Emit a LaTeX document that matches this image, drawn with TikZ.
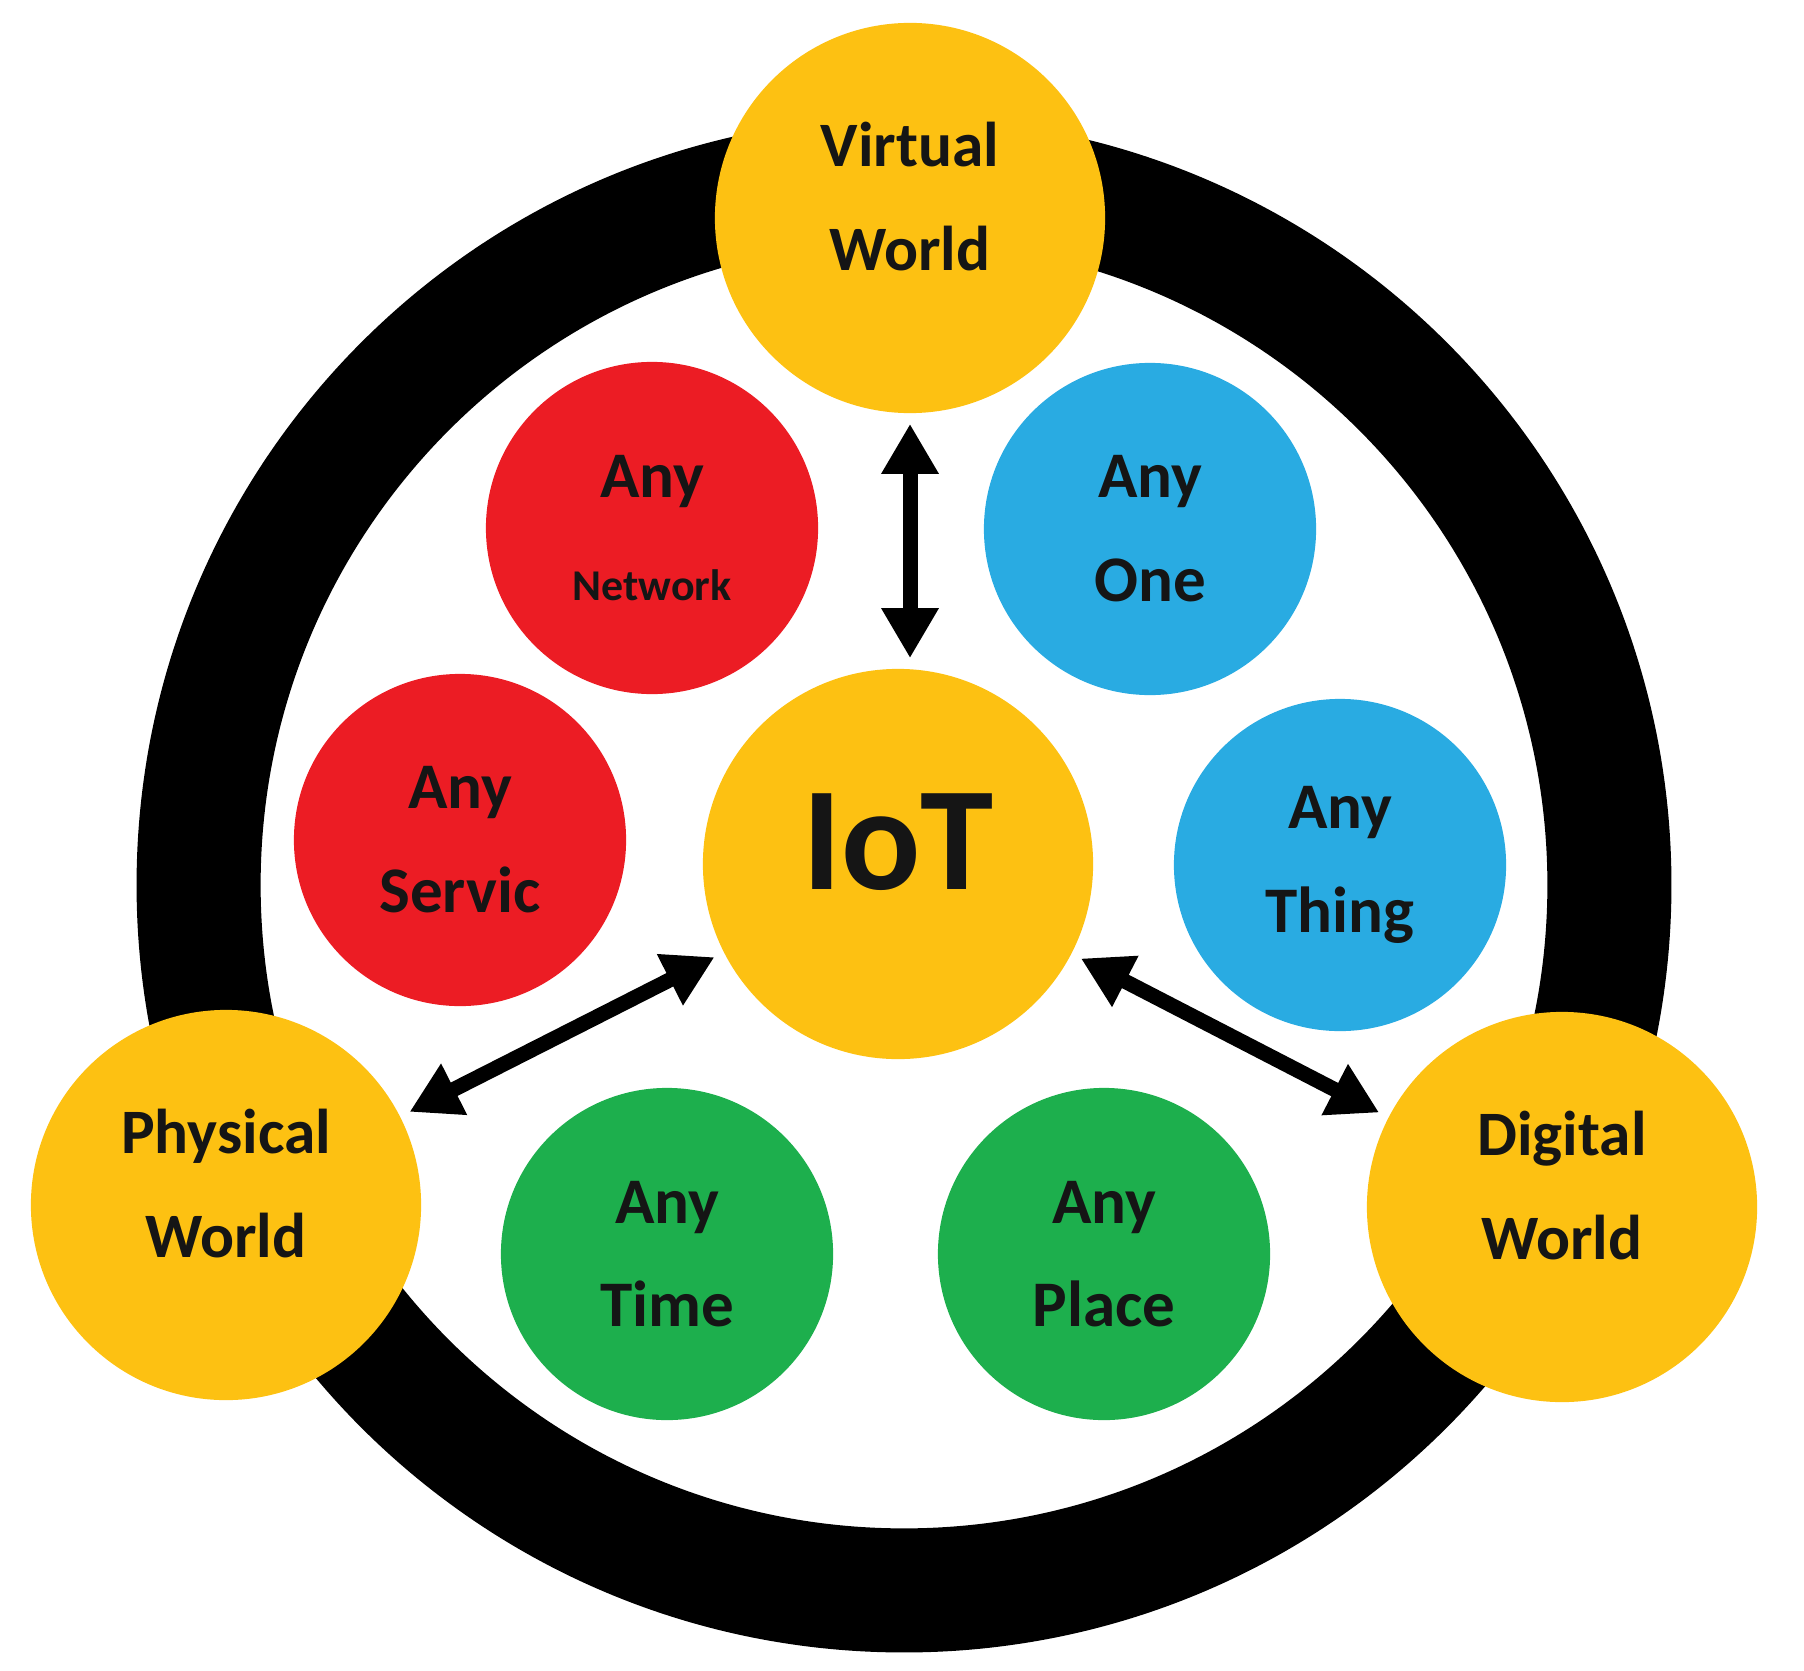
\documentclass[tikz,border=0pt]{standalone}
\usepackage{fontspec}
\setmainfont{Carlito}
\usetikzlibrary{arrows.meta}
\definecolor{gold}{HTML}{FDC112}
\definecolor{anyred}{HTML}{EC1C24}
\definecolor{anyblue}{HTML}{29ABE2}
\definecolor{anygreen}{HTML}{1DAF4D}
\definecolor{ink}{HTML}{151515}

\begin{document}
\begin{tikzpicture}[x=0.01cm,y=-0.01cm,
  world/.style={circle,fill=gold,text=ink,minimum size=3.9cm,inner sep=0pt,align=center,
    font=\fontsize{18}{29.6}\selectfont\bfseries,
    execute at end node={\rule[-0.44cm]{0pt}{0.44cm}}},
  any/.style={circle,text=ink,minimum size=3.32cm,inner sep=0pt,align=center,
    font=\fontsize{18.5}{29.5}\selectfont\bfseries},
  link/.style={line width=0.15cm,
    {Triangle[length=0.5cm,width=0.54cm]}-{Triangle[length=0.5cm,width=0.54cm]},
    shorten <=0.1cm,shorten >=0.1cm}]
  \useasboundingbox (0,0) rectangle (1804,1670);

  \draw[line width=1.24cm] (904,885) circle (7.05cm);

  \node[world] (vw) at (910,218) {Virtual\\World};
  \node[world] (pw) at (226,1205) {Physical\\World};
  \node[world] (dw) at (1562,1207) {Digital\\World};
  \node[world,font=\fontsize{42}{42}\selectfont\bfseries] (iot) at (898,864) {IoT};

  \node[any,fill=anyred] (net) at (652,528) {Any\\{\fontsize{12.5}{29.5}\selectfont Network}};
  \node[any,fill=anyred] (serv) at (460,840) {Any\\Servic};
  \node[any,fill=anyblue] (one) at (1150,529) {Any\\One};
  \node[any,fill=anyblue] (thing) at (1340,865) {Any\\Thing};
  \node[any,fill=anygreen] (time) at (667,1254) {Any\\Time};
  \node[any,fill=anygreen] (place) at (1104,1254) {Any\\Place};

  \draw[link] (vw) -- (vw |- iot.north);
  \draw[link] (iot) -- (pw);
  \draw[link] (iot) -- (dw);

\end{tikzpicture}
\end{document}
